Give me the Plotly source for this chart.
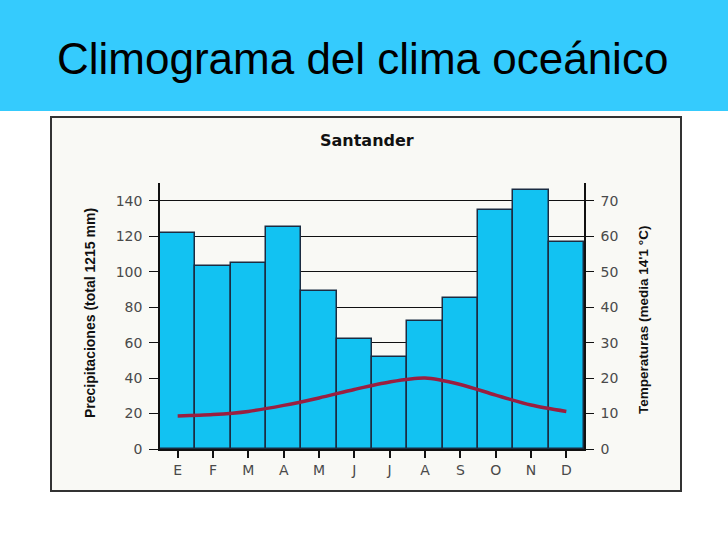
import plotly.graph_objects as go

months = ["E", "F", "M", "A", "M", "J", "J", "A", "S", "O", "N", "D"]
precip_mm = [122, 103, 105, 125, 89, 62, 52, 72, 85, 135, 146, 117]
temp_c = [9.3, 9.7, 10.6, 12.3, 14.4, 16.8, 18.9, 20.0, 18.2, 15.2, 12.4, 10.6]

main_title = "Climograma del clima oceánico"
chart_title = "Santander"
left_title = "Precipitaciones (total 1215 mm)"
right_title = "Temperaturas (media 14'1 °C)"

W, H = 728, 546
L, R, T, B = 160, 584, 183, 449  # plot area in pixels


def px(x):
    return (x - L) / (R - L)


def py(y):
    return (B - y) / (B - T)


xcat = list(range(len(months)))

fig = go.Figure()
fig.add_trace(go.Bar(
    x=xcat, y=precip_mm, marker=dict(color="#12C2F2", line=dict(color="#1B2C42", width=1.5)),
    width=1.0, yaxis="y", showlegend=False, hoverinfo="y"))
fig.add_trace(go.Scatter(
    x=xcat, y=temp_c, yaxis="y2", mode="lines", line=dict(color="#9A1F40", width=3.5, shape="spline", smoothing=0.8),
    showlegend=False))

tickfont = dict(family="DejaVu Sans", size=14, color="#4a4a4a")

shapes = [
    # header band
    dict(type="rect", xref="paper", yref="paper", x0=px(0), x1=px(W), y0=py(111), y1=py(0),
         fillcolor="#35CBFD", line=dict(width=0), layer="below"),
    # chart box
    dict(type="rect", xref="paper", yref="paper", x0=px(51), x1=px(681), y0=py(491), y1=py(117),
         fillcolor="#F9F9F5", line=dict(color="#333333", width=2), layer="below"),
]

annotations = [
    dict(text=main_title, xref="paper", yref="paper", x=px(362), y=py(58), xanchor="center", yanchor="middle",
         showarrow=False, font=dict(family="Liberation Sans, Arial", size=44, color="#000000")),
    dict(text="<b>" + chart_title + "</b>", xref="paper", yref="paper", x=px(367), y=py(140), xanchor="center",
         yanchor="middle", showarrow=False, font=dict(family="DejaVu Sans", size=16, color="#111111")),
    dict(text="<b>" + left_title + "</b>", xref="paper", yref="paper", x=px(90), y=py(313), xanchor="center",
         yanchor="middle", textangle=-90, showarrow=False,
         font=dict(family="Liberation Sans Narrow, Liberation Sans", size=14, color="#111111")),
    dict(text="<b>" + right_title + "</b>", xref="paper", yref="paper", x=px(643), y=py(320), xanchor="center",
         yanchor="middle", textangle=-90, showarrow=False,
         font=dict(family="Liberation Sans Narrow, Liberation Sans", size=13.5, color="#111111")),
]

fig.update_layout(
    width=W, height=H,
    margin=dict(l=L, r=W - R, t=T, b=H - B),
    paper_bgcolor="#FFFFFF",
    plot_bgcolor="#FFFACB",
    bargap=0,
    shapes=shapes,
    annotations=annotations,
    xaxis=dict(range=[-0.5, 11.5], tickmode="array", tickvals=xcat, ticktext=months, tickson="boundaries",
               ticks="outside", ticklen=7, tickcolor="#111111", tickwidth=1.5, showgrid=False,
               showline=True, linecolor="#111111", linewidth=1.5, tickfont=tickfont, zeroline=False),
    yaxis=dict(range=[0, 150], dtick=20, tick0=0, ticks="outside", ticklen=9, tickcolor="#111111", tickwidth=1,
               showgrid=True, gridcolor="#111111", gridwidth=1, showline=True, linecolor="#111111",
               linewidth=1.5, tickfont=tickfont, zeroline=False, ticklabelstandoff=4),
    yaxis2=dict(range=[0, 75], dtick=10, tick0=0, overlaying="y", side="right", ticks="outside", ticklen=8,
                tickcolor="#111111", tickwidth=1, showgrid=False, showline=True, linecolor="#111111",
                linewidth=1.5, tickfont=tickfont, zeroline=False, ticklabelstandoff=4),
)

fig.write_html("out.html", config={"displayModeBar": False},
               post_script="document.body.style.margin='0';document.body.style.overflow='hidden';")
